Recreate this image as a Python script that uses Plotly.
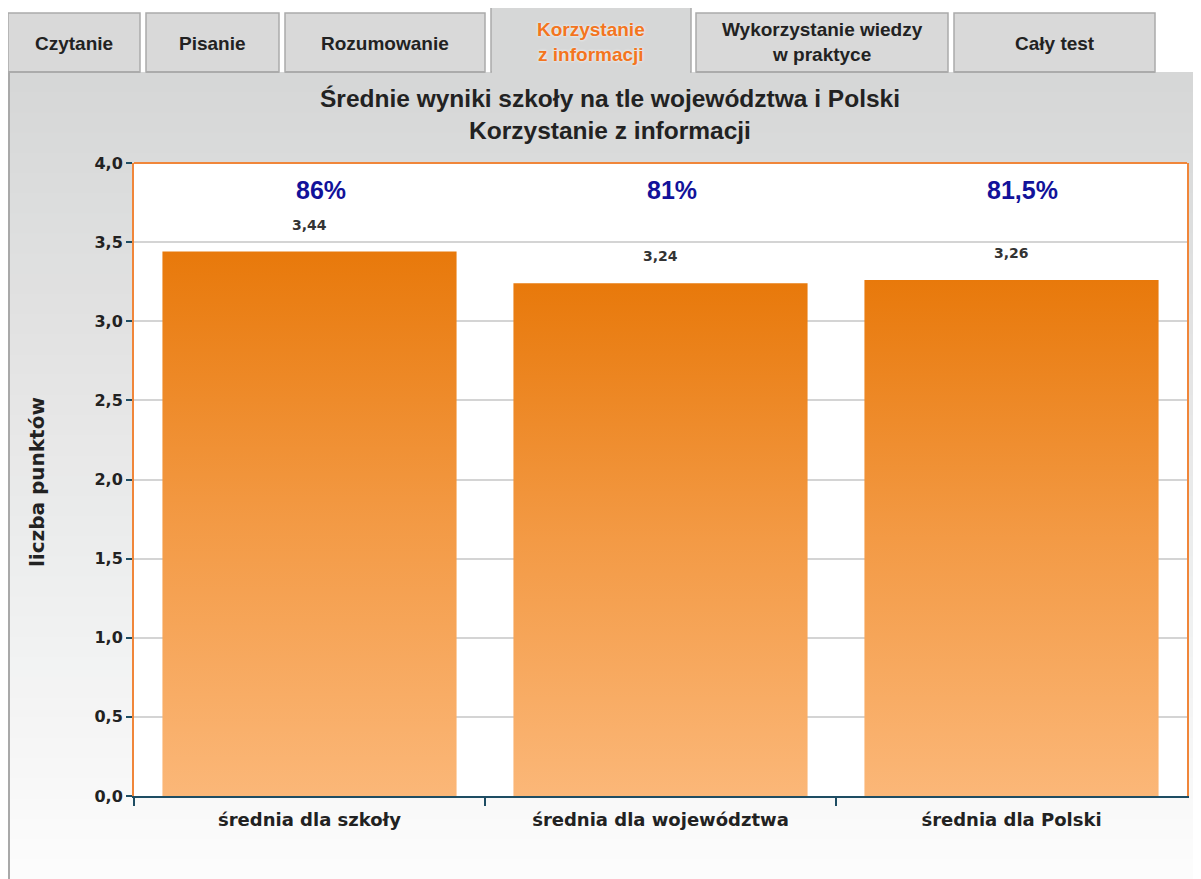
import plotly.graph_objects as go

# data
categories = ["średnia dla szkoły", "średnia dla województwa", "średnia dla Polski"]
scores = [3.44, 3.24, 3.26]
percents = [86, 81, 81.5]
tabs = ["Czytanie", "Pisanie", "Rozumowanie", "Korzystanie<br>z informacji",
        "Wykorzystanie wiedzy<br>w praktyce", "Cały test"]
active_tab = 3
y_ticks = [0, 0.5, 1.0, 1.5, 2.0, 2.5, 3.0, 3.5, 4.0]

# page geometry (pixels, page coordinates; the figure div sits 8px in from the body edge)
OFF = 8
W, H = 1201 - OFF, 879 - OFF
PX0, PX1, PY0, PY1 = 134, 1187, 163, 796   # plot area on the page
PW, PH = PX1 - PX0, PY1 - PY0
tab_x = [(8, 140), (146, 279), (285, 485), (491, 691), (696, 948), (954, 1155)]

TEAL = "#1e4d63"
ORANGE = "#f0863a"
BAR_W = 0.838


def fx(px):
    return (px - PX0) / PW


def fy(py):
    return (PY1 - py) / PH


def fmt(v, d):
    return f"{v:.{d}f}".replace(".", ",")


fig = go.Figure()

# bars with vertical gradient
for i, v in enumerate(scores):
    fig.add_trace(go.Scatter(
        x=[i - BAR_W / 2, i - BAR_W / 2, i + BAR_W / 2, i + BAR_W / 2, i - BAR_W / 2],
        y=[0, v, v, 0, 0],
        mode="none", fill="toself",
        fillgradient=dict(type="vertical",
                          colorscale=[[0, "#fbb778"], [0.5, "#f39a45"], [1, "#e8790b"]]),
        hoverinfo="skip", showlegend=False,
    ))

shapes = []
# panel background gradient
n = 40
top, bot = 72, 879
c0, c1 = (214, 215, 215), (252, 252, 252)
for k in range(n):
    t = k / (n - 1)
    col = tuple(round(c0[j] + (c1[j] - c0[j]) * t) for j in range(3))
    y0 = top + (bot - top) * k / n
    y1 = top + (bot - top) * (k + 1) / n + 1
    shapes.append(dict(type="rect", xref="paper", yref="paper", layer="below",
                       x0=fx(9), x1=fx(1210), y0=fy(y0), y1=fy(y1),
                       fillcolor="rgb(%d,%d,%d)" % col, line_width=0))
# panel left border
shapes.append(dict(type="line", xref="paper", yref="paper", layer="below",
                   x0=fx(9), x1=fx(9), y0=fy(72), y1=fy(890),
                   line=dict(color="#a9a9a9", width=2)))
# tabs
for i, (x0, x1) in enumerate(tab_x):
    y0 = 7 if i == active_tab else 13
    shapes.append(dict(type="rect", xref="paper", yref="paper", layer="below",
                       x0=fx(x0), x1=fx(x1), y0=fy(72), y1=fy(y0),
                       fillcolor="#d6d7d7" if i == active_tab else "#d9d9d9",
                       line=dict(color="#ababab", width=1.5)))
    if i != active_tab:
        shapes.append(dict(type="line", xref="paper", yref="paper", layer="below",
                           x0=fx(x0), x1=fx(x1), y0=fy(72), y1=fy(72),
                           line=dict(color="#ababab", width=2)))
    else:
        shapes.append(dict(type="line", xref="paper", yref="paper", layer="below",
                           x0=fx(x0 + 1), x1=fx(x1 - 1), y0=fy(72), y1=fy(72),
                           line=dict(color="#d6d7d7", width=3)))
# white plot area
shapes.append(dict(type="rect", xref="paper", yref="paper", layer="below",
                   x0=0, x1=1, y0=0, y1=1, fillcolor="white", line_width=0))
# orange top border
shapes.append(dict(type="line", xref="paper", yref="paper", layer="above",
                   x0=0, x1=1, y0=1, y1=1, line=dict(color=ORANGE, width=2)))

annotations = []
for i, (x0, x1) in enumerate(tab_x):
    two_lines = "<br>" in tabs[i]
    annotations.append(dict(
        text="<b>" + tabs[i] + "</b>", xref="paper", yref="paper",
        x=fx((x0 + x1) / 2), y=fy(42 if two_lines else 43),
        xanchor="center", yanchor="middle", showarrow=False, align="center",
        font=dict(family="Liberation Sans", size=19,
                  color="#f37520" if i == active_tab else "#222222",
                  shadow="0px 0px 3px white" if i == active_tab else "none")))

annotations.append(dict(
    text="<b>Średnie wyniki szkoły na tle województwa i Polski<br>Korzystanie z informacji</b>",
    xref="paper", yref="paper", x=fx(610), y=fy(114), xanchor="center", yanchor="middle",
    showarrow=False, align="center",
    font=dict(family="Liberation Sans", size=24.5, color="#222222")))

annotations.append(dict(
    text="<b>liczba punktów</b>", xref="paper", yref="paper", x=fx(37), y=fy(482),
    xanchor="center", yanchor="middle", textangle=-90, showarrow=False,
    font=dict(family="DejaVu Sans", size=20, color="#222222")))

for i, (v, p) in enumerate(zip(scores, percents)):
    annotations.append(dict(
        text="<b>" + fmt(v, 2) + "</b>", x=i, y=v, xanchor="center", yanchor="bottom",
        yshift=17, showarrow=False,
        font=dict(family="DejaVu Sans", size=14, color="#333333")))
    ptxt = (fmt(p, 1) if p % 1 else str(int(p))) + "%"
    annotations.append(dict(
        text="<b>" + ptxt + "</b>", x=i, xref="x", yref="paper", y=fy(190),
        xanchor="center", yanchor="middle", xshift=11, showarrow=False,
        font=dict(family="Liberation Sans", size=25, color="#12129a")))

fig.update_layout(
    width=W, height=H,
    margin=dict(l=PX0 - OFF, r=W - (PX1 - OFF), t=PY0 - OFF, b=H - (PY1 - OFF)),
    paper_bgcolor="white", plot_bgcolor="white",
    separators=", ",
    shapes=shapes, annotations=annotations,
    showlegend=False,
    xaxis=dict(range=[-0.5, 2.5], tickmode="array", tickvals=[0, 1, 2],
               ticktext=["<b>" + c + "</b>" for c in categories], ticks="",
               ticklabelstandoff=6,
               showgrid=False, zeroline=False, showline=True, linecolor=TEAL, linewidth=2,
               tickfont=dict(family="DejaVu Sans", size=18, color="#222222"),
               minor=dict(tickmode="array", tickvals=[-0.5, 0.5, 1.5], ticks="outside",
                          ticklen=8, tickwidth=2, tickcolor=TEAL, showgrid=False),
               fixedrange=True),
    yaxis=dict(range=[0, 4], tickmode="array", tickvals=y_ticks,
               ticktext=["<b>" + fmt(t, 1) + "</b>" for t in y_ticks],
               ticks="outside", ticklen=6, tickwidth=2, tickcolor=TEAL,
               showgrid=True, gridcolor="#d4d4d4", gridwidth=1.5, zeroline=False,
               showline=True, linecolor=ORANGE, linewidth=2, mirror=True,
               tickfont=dict(family="DejaVu Sans", size=16, color="#222222"),
               fixedrange=True),
)

fig.write_html("out.html")
